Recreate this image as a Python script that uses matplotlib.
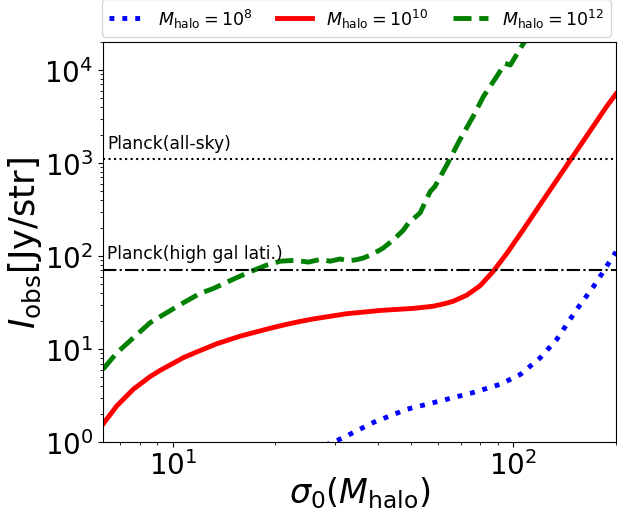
import numpy as np
import matplotlib
matplotlib.use("Agg")
import matplotlib.pyplot as plt

# Data
x_m8 = [28.0, 29.6, 31.7, 34.6, 38.8, 48.7, 60.9, 76.1, 91.5, 104.9, 120.0, 134.0, 153.0, 172.0, 179.0, 187.0, 196.5, 200.0]
y_m8 = [0.93, 1.0, 1.12, 1.32, 1.63, 2.26, 2.77, 3.41, 4.19, 5.36, 8.1, 12.7, 26.3, 47.3, 58.9, 75.9, 100.0, 111.0]

x_m10 = [6.24, 6.85, 7.66, 8.58, 9.18, 9.6, 10.74, 12.0, 13.46, 15.8, 18.9, 21.1, 23.6, 25.9, 32.4, 40.6, 50.9,
         58.2, 63.1, 66.6, 73.0, 79.8, 87.3, 95.7, 107.0, 119.7, 134.0, 150.0, 168.0, 188.0, 200.0]
y_m10 = [1.56, 2.45, 3.70, 5.06, 5.9, 6.45, 8.09, 9.6, 11.4, 13.8, 16.4, 18.1, 19.8, 21.1, 24.0, 26.0, 27.4,
         28.9, 30.9, 32.7, 38.0, 47.9, 68.6, 107.0, 193.0, 355.0, 653.0, 1200.0, 2213.0, 4074.0, 5500.0]

x_m12 = [6.24, 6.85, 7.66, 8.58, 9.6, 10.74, 12.0, 13.2, 15.0, 16.9, 18.9, 20.7, 22.9, 25.0, 27.1, 29.0, 31.0,
         32.7, 34.5, 36.2, 38.5, 41.5, 44.5, 47.5, 49.2, 53.2, 57.0, 58.8, 63.8, 69.6, 76.1, 81.6, 89.2, 94.5,
         98.0, 107.0, 115.0]
y_m12 = [6.06, 9.1, 13.2, 19.2, 24.6, 31.4, 39.5, 45.0, 56.0, 68.0, 80.0, 88.0, 90.0, 86.0, 92.0, 88.0, 93.0,
         89.0, 91.0, 95.0, 104.0, 122.0, 150.0, 189.0, 226.0, 290.0, 493.0, 558.0, 955.0, 1770.0, 3140.0, 5150.0,
         8430.0, 11700.0, 11300.0, 19250.0, 28000.0]

planck_allsky = 1100.0
planck_highlat = 70.0

labels = [r"$M_{\rm halo}=10^{8}$", r"$M_{\rm halo}=10^{10}$", r"$M_{\rm halo}=10^{12}$"]

fig = plt.figure(figsize=(6.2, 5.1), dpi=100)
ax = fig.add_axes([0.166, 0.131, 0.8275, 0.785])

l1, = ax.plot(x_m8, y_m8, color="blue", ls=":", lw=3.5, label=labels[0])
l2, = ax.plot(x_m10, y_m10, color="red", ls="-", lw=3.5, label=labels[1])
l3, = ax.plot(x_m12, y_m12, color="green", ls="--", lw=3.5, label=labels[2])

ax.axhline(planck_allsky, color="black", ls=":", lw=1.5)
ax.axhline(planck_highlat, color="black", ls="-.", lw=1.5)
ax.text(6.41, 1440, "Planck(all-sky)", fontsize=12.3)
ax.text(6.41, 96, "Planck(high gal lati.)", fontsize=12.3)

ax.set_xscale("log")
ax.set_yscale("log")
ax.set_xlim(6.24, 200)
ax.set_ylim(1, 2e4)
ax.tick_params(axis="both", which="major", labelsize=20)
ax.tick_params(axis="x", which="major", pad=2)
ax.set_xlabel(r"$\sigma_0(M_{\rm halo})$", fontsize=24, labelpad=-4)
ax.set_ylabel(r"$I_{\rm obs}[{\rm Jy/str}]$", fontsize=25.5, labelpad=0)

ax.legend(handles=[l1, l2, l3], loc="lower center", bbox_to_anchor=(0.494, 1.0),
          ncol=3, fontsize=12.6, borderaxespad=0.3, handlelength=2.0, columnspacing=1.4)

fig.savefig("out.png", dpi=100)
